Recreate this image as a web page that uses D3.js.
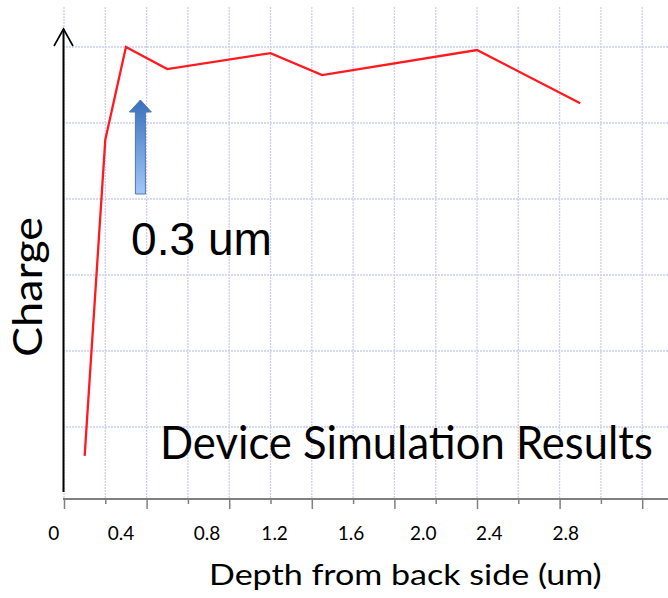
<!DOCTYPE html>
<html>
<head>
    <meta charset="UTF-8">
    <title>Device Simulation Results</title>
    <script src="https://d3js.org/d3.v7.min.js"></script>
    <style>
        body { margin: 0; background: #fff; }
        svg { display: block; }
    </style>
</head>
<body>
    <div id="chart"></div>
    <script>
        // values
        const depth = [0.1, 0.2, 0.3, 0.5, 1.0, 1.25, 2.0, 2.5];
        const charge = [0.62, 4.78, 6.0, 5.71, 5.92, 5.63, 5.96, 5.26];
        const tickLabels = ["0", "0.4", "0.8", "1.2", "1.6", "2.0", "2.4", "2.8"];
        // the labels on the slide sit where they were typed, not exactly under the ticks
        const tickLabelAt = [-0.05, 0.276, 0.693, 1.02, 1.39, 1.74, 2.06, 2.43];
        const gridX = d3.range(0, 15).map(i => i * 0.2);
        const gridY = [1, 2, 3, 4, 5, 6];
        const markerDepth = 0.37;

        const W = 668, H = 598;
        const x = d3.scaleLinear().domain([0, 1]).range([64, 270.5]);
        const y = d3.scaleLinear().domain([0, 6]).range([503, 47]);

        const svg = d3.select('#chart').append('svg')
            .attr('width', W).attr('height', H);

        const sans = 'Lato, "Open Sans", sans-serif';

        // squeeze a text horizontally to the width it has on the slide
        function fitText(px, py, rot, w, size, family, str) {
            const g = svg.append('g');
            const t = g.append('text')
                .attr('font-family', family)
                .attr('font-size', size)
                .text(str);
            const sx = w / t.node().getComputedTextLength();
            g.attr('transform', `translate(${px},${py}) rotate(${rot}) scale(${sx},1)`);
            return t;
        }

        // grid
        const grid = svg.append('g')
            .attr('stroke', '#cdcdf4')
            .attr('stroke-width', 1.3)
            .attr('stroke-dasharray', '2,1');
        grid.selectAll('.gx').data(gridX).enter().append('line')
            .attr('x1', d => x(d)).attr('x2', d => x(d))
            .attr('y1', 7).attr('y2', 499);
        grid.selectAll('.gy').data(gridY).enter().append('line')
            .attr('x1', 63).attr('x2', W)
            .attr('y1', d => y(d)).attr('y2', d => y(d));

        // x axis
        const xAxis = d3.axisBottom(x)
            .tickValues(gridX)
            .tickSize(10)
            .tickFormat('');
        const gx = svg.append('g')
            .attr('transform', 'translate(0,499)')
            .call(xAxis);
        gx.select('.domain').remove();
        gx.selectAll('.tick line')
            .attr('stroke', '#808080')
            .attr('stroke-width', 1.5)
            .attr('y2', (d, i) => i % 2 === 0 ? 10 : 5);
        gx.append('line')
            .attr('x1', 63).attr('x2', W)
            .attr('stroke', '#808080').attr('stroke-width', 2);

        svg.selectAll('.xlab').data(tickLabels).enter().append('text')
            .attr('x', (d, i) => x(tickLabelAt[i]))
            .attr('y', 540)
            .attr('text-anchor', 'middle')
            .attr('font-family', sans)
            .attr('font-size', 19)
            .text(d => d);

        // y axis arrow
        svg.append('line')
            .attr('x1', 63.5).attr('x2', 63.5)
            .attr('y1', 29).attr('y2', 492)
            .attr('stroke', '#000').attr('stroke-width', 2);
        svg.append('path')
            .attr('d', 'M54,46 L63.5,29 L73,46')
            .attr('fill', 'none').attr('stroke', '#000').attr('stroke-width', 1.6);

        // charge curve
        const line = d3.line()
            .x((d, i) => x(depth[i]))
            .y(d => y(d));
        svg.append('path')
            .datum(charge)
            .attr('d', line)
            .attr('fill', 'none')
            .attr('stroke', '#ff1a1f')
            .attr('stroke-width', 2.3);

        // blue marker arrow
        const defs = svg.append('defs');
        const grad = defs.append('linearGradient')
            .attr('id', 'blue').attr('x1', 0).attr('y1', 0).attr('x2', 0).attr('y2', 1);
        grad.append('stop').attr('offset', '0%').attr('stop-color', '#3a6fbd');
        grad.append('stop').attr('offset', '100%').attr('stop-color', '#a3c8f7');

        const ax = x(markerDepth), tipY = 100, neckY = 112, baseY = 194;
        svg.append('path')
            .attr('d', `M${ax},${tipY} L${ax + 11},${neckY} L${ax + 5},${neckY} L${ax + 5},${baseY}
                L${ax - 5},${baseY} L${ax - 5},${neckY} L${ax - 11},${neckY} Z`)
            .attr('fill', 'url(#blue)')
            .attr('stroke', '#4a78b5')
            .attr('stroke-width', 1);

        // texts
        fitText(131, 255, 0, 141, 46, '"Liberation Sans", Arial, sans-serif', '0.3 um');
        fitText(160, 459, 0, 493, 47, sans, 'Device Simulation Results');
        fitText(42, 357, -90, 140, 41, sans, 'Charge');
        fitText(209, 585, 0, 393, 28, sans, 'Depth from back side (um)');
    </script>
</body>
</html>
